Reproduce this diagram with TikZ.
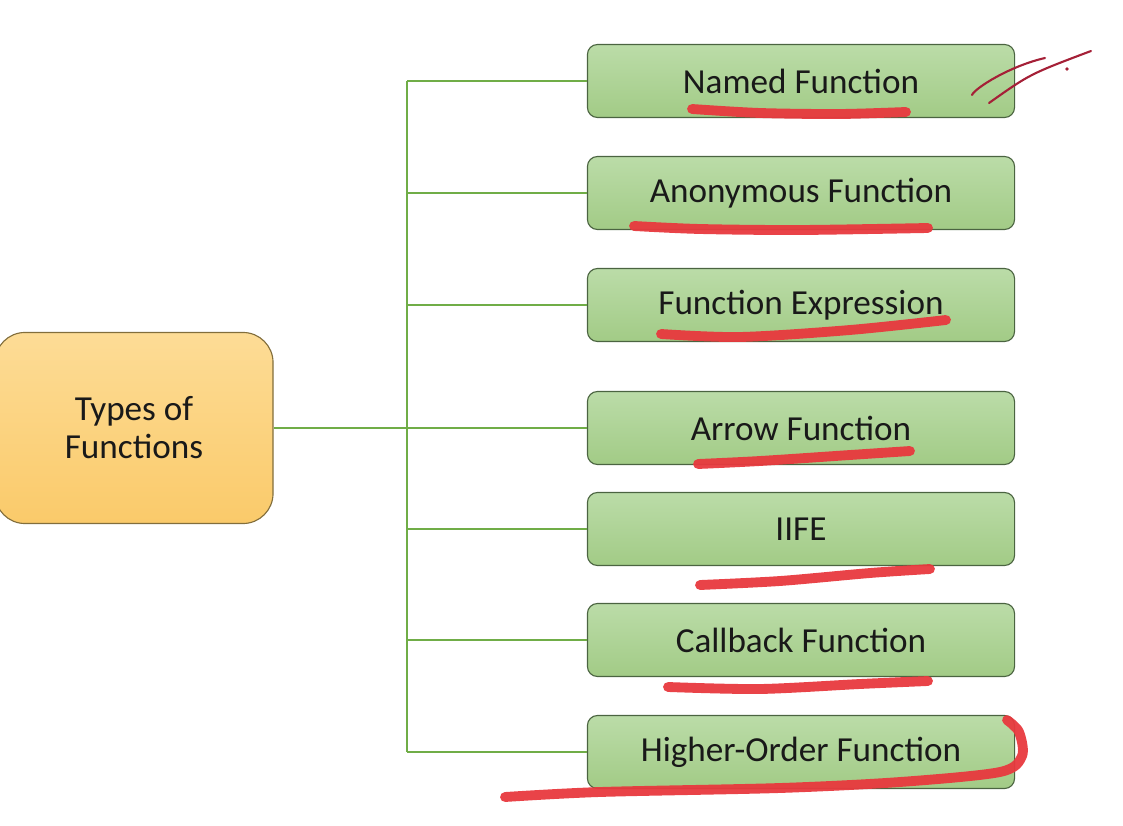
\documentclass[tikz,border=0pt]{standalone}
\usepackage{fontspec}
\setmainfont{Carlito}
\usetikzlibrary{positioning}
\definecolor{rootTop}{RGB}{253,220,150}
\definecolor{rootBot}{RGB}{250,202,106}
\definecolor{rootLine}{RGB}{130,110,60}
\definecolor{leafTop}{RGB}{187,220,168}
\definecolor{leafBot}{RGB}{162,203,134}
\definecolor{leafLine}{RGB}{75,100,65}
\definecolor{branchGreen}{RGB}{112,173,71}
\definecolor{inkRed}{RGB}{232,57,62}
\definecolor{scrawlRed}{RGB}{165,32,55}

\begin{document}
\begin{tikzpicture}[
  x=0.025cm, y=-0.025cm,
  every node/.style={font=\fontsize{25}{27}\selectfont, text=black!90},
  root/.style={draw=rootLine, line width=0.8pt, rounded corners=0.75cm,
    top color=rootTop, bottom color=rootBot,
    minimum width=6.95cm, minimum height=4.775cm, align=center},
  leaf/.style={draw=leafLine, line width=0.8pt, rounded corners=0.25cm,
    top color=leafTop, bottom color=leafBot,
    minimum width=10.675cm, minimum height=1.825cm},
  branch/.style={draw=branchGreen, line width=1.3pt},
  ink/.style={draw=inkRed, line width=7pt, line cap=round, line join=round, opacity=0.95},
  scrawl/.style={draw=scrawlRed, line width=1.5pt, line cap=round}
]
  \useasboundingbox (0,0) rectangle (1123,826);

  \node[root] (types) at (134,428) {Types of\\Functions};

  \node[leaf] (named)    at (801,81)  {Named Function};
  \node[leaf] (anon)     at (801,193) {Anonymous Function};
  \node[leaf] (fexpr)    at (801,305) {Function Expression};
  \node[leaf] (arrow)    at (801,428) {Arrow Function};
  \node[leaf] (iife)     at (801,529) {IIFE};
  \node[leaf] (callback) at (801,640) {Callback Function};
  \node[leaf] (hof)      at (801,752) {Higher-Order Function};

  % Tree connectors (green)
  \coordinate (hub) at (407,428);
  \draw[branch] (types) -- (hub);
  \draw[branch] (hub |- named) -- (hub |- hof);
  \draw[branch] (hub |- named) -- (named);
  \draw[branch] (hub |- anon) -- (anon);
  \draw[branch] (hub |- fexpr) -- (fexpr);
  \draw[branch] (hub) -- (arrow);
  \draw[branch] (hub |- iife) -- (iife);
  \draw[branch] (hub |- callback) -- (callback);
  \draw[branch] (hub |- hof) -- (hof);

  % Hand-drawn underlines (red)
  \draw[ink] plot[smooth] coordinates {(692,109) (760,113) (840,114) (906,112)};
  \draw[ink] plot[smooth] coordinates {(634,226) (700,229) (800,230) (928,228)};
  \draw[ink] plot[smooth] coordinates {(661,334) (740,337) (850,330) (946,320)};
  \draw[ink] plot[smooth] coordinates {(698,464) (760,461) (850,455) (910,451)};
  \draw[ink] plot[smooth] coordinates {(700,585) (780,581) (870,573) (930,569)};
  \draw[ink] plot[smooth] coordinates {(668,687) (760,689) (860,684) (928,681)};
  \draw[ink] plot[smooth] coordinates {(505,797) (600,792) (780,788) (900,782)
    (1000,772) (1022,756) (1019,732) (1007,720)};
  % Tick marks
  \draw[scrawl] (972,95) .. controls (975,88) and (1010,66) .. (1045,58);
  \draw[scrawl] (989,103) .. controls (1030,74) .. (1091,51);
  \fill[scrawlRed] (1067,69) circle (1.8);
\end{tikzpicture}
\end{document}
